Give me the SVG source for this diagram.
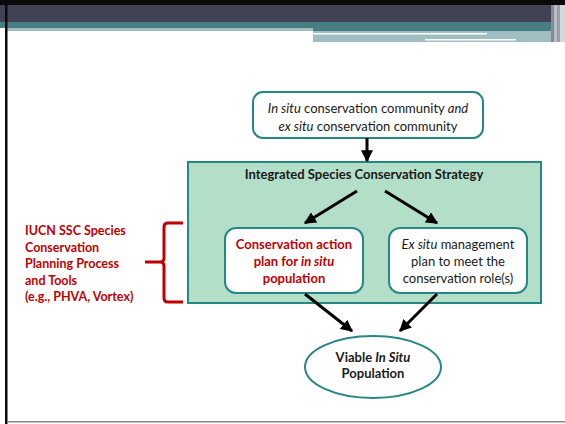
<svg xmlns="http://www.w3.org/2000/svg" width="565" height="424" viewBox="0 0 565 424">
<defs>
<marker id="ah" viewBox="0 0 10 10" refX="9" refY="5" markerWidth="4" markerHeight="4" orient="auto" markerUnits="strokeWidth">
<path d="M0,0 L10,5 L0,10 Z" fill="#000"/>
</marker>
<style>
text{font-family:Lato,"Liberation Sans",sans-serif;font-size:13px;text-anchor:middle;fill:#1a1a1a}
.b{font-weight:bold}
.i{font-style:italic}
.red{fill:#C00000}
.lbl{text-anchor:start;font-weight:bold;fill:#C00000;font-size:12.5px}
.tealbox{stroke:#268787;stroke-width:2}
.conn line{stroke:#000;stroke-width:3;marker-end:url(#ah)}
</style>
</defs>
<rect x="0" y="0" width="565" height="424" fill="#fff"/>
<!-- header -->
<g id="header">
<rect x="0" y="0" width="565" height="5" fill="#0a0a0a"/>
<rect x="0" y="5" width="565" height="17" fill="#414355"/>
<rect x="0" y="22" width="565" height="6" fill="#467E84"/>
<rect x="7" y="28" width="306" height="3" fill="#A0BEC1"/>
<rect x="313" y="28" width="240" height="3" fill="#467E84"/>
<rect x="313" y="31" width="240" height="11" fill="#A0BEC1"/>
<rect x="313" y="33" width="174" height="1.5" fill="#fff"/>
<rect x="425" y="39" width="91" height="1.5" fill="#fff"/>
<rect x="551" y="5" width="3" height="37" fill="#888a96"/>
<rect x="554" y="5" width="3" height="37" fill="#b8bcc4"/>
<rect x="557" y="5" width="3" height="37" fill="#9aa0aa"/>
<rect x="560" y="5" width="5" height="37" fill="#d0d8da"/>
</g>
<rect x="5" y="0" width="2.5" height="424" fill="#0a0a0a"/>
<rect x="7" y="421" width="558" height="1.5" fill="#888"/>

<g id="community">
<rect x="253" y="92" width="230" height="46" rx="10" fill="#fff" class="tealbox"/>
<text x="368" y="113"><tspan class="i">In situ</tspan> conservation community <tspan class="i">and</tspan></text>
<text x="368" y="131"><tspan class="i">ex situ</tspan> conservation community</text>
</g>

<g id="strategy">
<rect x="188" y="162" width="353" height="141" fill="#B3DEC8" class="tealbox"/>
<text x="364" y="179" class="b">Integrated Species Conservation Strategy</text>
</g>

<g id="insitu-plan">
<rect x="225" y="228" width="138" height="65" rx="11" fill="#fff" class="tealbox"/>
<text x="294" y="249" class="b red">Conservation action</text>
<text x="294" y="266" class="b red">plan for <tspan class="i">in situ</tspan></text>
<text x="294" y="283" class="b red">population</text>
</g>

<g id="exsitu-plan">
<rect x="389" y="228" width="138" height="65" rx="11" fill="#fff" class="tealbox"/>
<text x="458" y="249"><tspan class="i">Ex situ</tspan> management</text>
<text x="458" y="266">plan to meet the</text>
<text x="458" y="283">conservation role(s)</text>
</g>

<g id="viable">
<ellipse cx="373" cy="367" rx="68" ry="31" fill="#fff" class="tealbox"/>
<text x="373" y="362" class="b">Viable <tspan class="i">In Situ</tspan></text>
<text x="373" y="378" class="b">Population</text>
</g>

<g id="iucn">
<text x="25" y="235" class="lbl">IUCN SSC Species</text>
<text x="25" y="252" class="lbl">Conservation</text>
<text x="25" y="268" class="lbl">Planning Process</text>
<text x="25" y="285" class="lbl">and Tools</text>
<text x="25" y="301" class="lbl">(e.g., PHVA, Vortex)</text>
<path d="M183,223 L168,223 Q164,223 164,227 L164,258 Q164,262 160,262 L145,262 M160,262 Q164,262 164,266 L164,298 Q164,302 168,302 L183,302" fill="none" stroke="#C00000" stroke-width="3"/>
</g>

<g id="connectors" class="conn">
<line x1="367" y1="138" x2="367" y2="161"/>
<line x1="357" y1="191" x2="305" y2="223"/>
<line x1="385" y1="191" x2="437" y2="223"/>
<line x1="305" y1="294" x2="352" y2="331"/>
<line x1="437" y1="294" x2="400" y2="331"/>
</g>
</svg>
